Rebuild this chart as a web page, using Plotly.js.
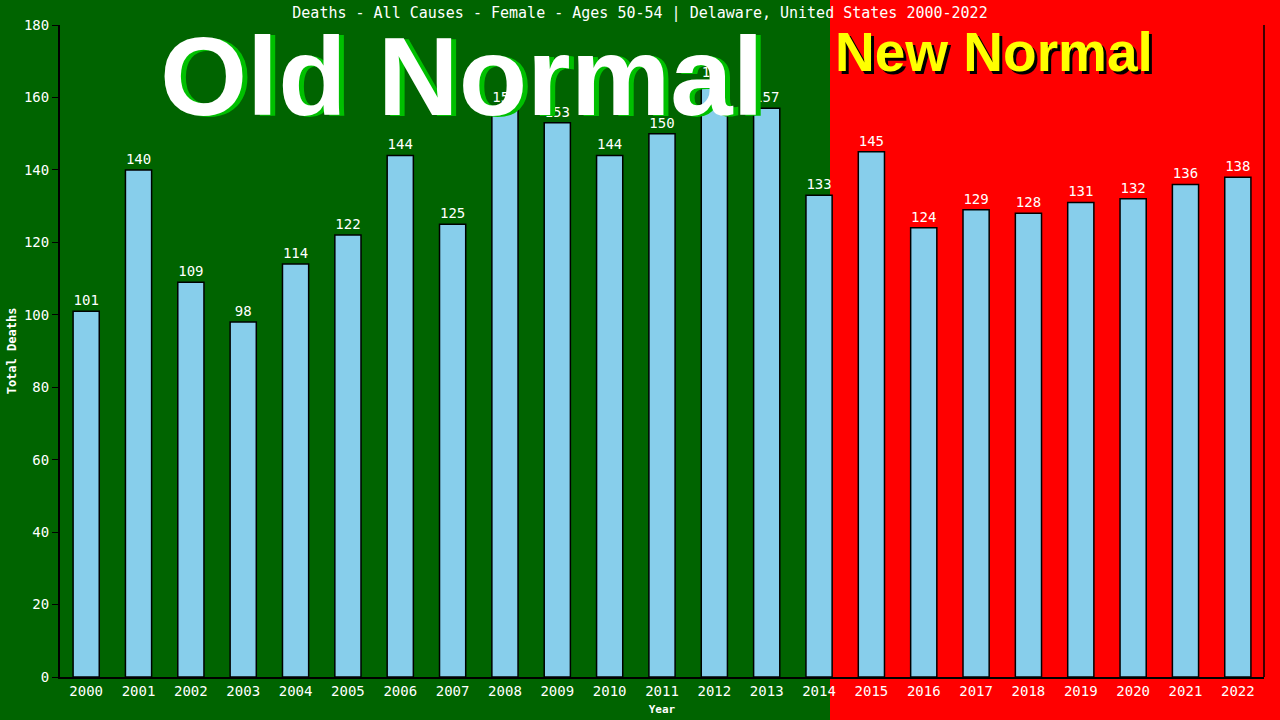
<!DOCTYPE html>
<html>
<head>
<meta charset="utf-8">
<script src="https://cdn.plot.ly/plotly-3.0.1.min.js"></script>
<style>
  html, body { margin: 0; padding: 0; background: #006400; }
  #chart { width: 1280px; height: 720px; }
</style>
</head>
<body>
<div id="chart"></div>
<script>
// Deaths per year, Delaware females 50-54
const years = ['2000', '2001', '2002', '2003', '2004', '2005', '2006', '2007', '2008', '2009', '2010', '2011',
               '2012', '2013', '2014', '2015', '2016', '2017', '2018', '2019', '2020', '2021', '2022'];
const deaths = [101, 140, 109, 98, 114, 122, 144, 125, 157, 153, 144, 150,
                164, 157, 133, 145, 124, 129, 128, 131, 132, 136, 138];
const yTicks = [0, 20, 40, 60, 80, 100, 120, 140, 160, 180];

const mono = 'DejaVu Sans Mono, Liberation Mono, monospace';
const sans = 'Liberation Sans, Arial, sans-serif';

const bars = {
    type: 'bar',
    x: years,
    y: deaths,
    width: 0.5,
    marker: { color: '#87CEEB', line: { color: '#000000', width: 1.5 } },
    text: deaths.map(String),
    textposition: 'outside',
    cliponaxis: false,
    textfont: { family: mono, size: 14, color: '#ffffff' },
    hoverinfo: 'x+y'
};

const layout = {
    width: 1280,
    height: 720,
    margin: { l: 60, r: 16, t: 25, b: 43 },
    paper_bgcolor: '#006400',
    plot_bgcolor: 'rgba(0,0,0,0)',
    showlegend: false,
    bargap: 0.5,
    title: {
        text: 'Deaths - All Causes - Female - Ages 50-54 | Delaware, United States 2000-2022',
        font: { family: mono, size: 15, color: '#ffffff' },
        x: 0.5, xref: 'container', xanchor: 'center',
        y: 1 - 13 / 720, yref: 'container', yanchor: 'middle'
    },
    xaxis: {
        type: 'category',
        range: [-0.5, 22.5],
        showgrid: false,
        zeroline: false,
        showline: true, linecolor: '#000000', linewidth: 2,
        ticks: '', ticklen: 0,
        tickfont: { family: mono, size: 14, color: '#ffffff' },
        title: { text: 'Year', font: { family: mono, size: 11, color: '#ffffff', weight: 'bold' }, standoff: 8 }
    },
    yaxis: {
        range: [0, 180],
        tickvals: yTicks,
        showgrid: false,
        zeroline: false,
        showline: true, linecolor: '#000000', linewidth: 2,
        ticks: 'outside', ticklen: 6, tickcolor: '#000000',
        tickfont: { family: mono, size: 14, color: '#ffffff' },
        title: { text: 'Total Deaths', font: { family: mono, size: 12, color: '#ffffff', weight: 'bold' }, standoff: 5 }
    },
    shapes: [
        // red "new normal" half of the background
        { type: 'rect', xref: 'paper', yref: 'paper', layer: 'below',
          x0: (830 - 60) / 1204, x1: (1280 - 60) / 1204, y0: -43 / 652, y1: 677 / 652,
          fillcolor: '#FF0000', line: { width: 0 } },
        // right border
        { type: 'line', xref: 'paper', yref: 'paper', layer: 'above',
          x0: 1, x1: 1, y0: 0, y1: 1, line: { color: '#000000', width: 1.5 } }
    ],
    annotations: [
        { text: '<b>Old Normal</b>', xref: 'paper', yref: 'paper', showarrow: false,
          x: (467 - 60) / 1204, y: (677 - 78) / 652, xanchor: 'center', yanchor: 'middle',
          font: { family: sans, size: 112, color: '#00C000' } },
        { text: '<b>Old Normal</b>', xref: 'paper', yref: 'paper', showarrow: false,
          x: (462 - 60) / 1204, y: (677 - 76) / 652, xanchor: 'center', yanchor: 'middle',
          font: { family: sans, size: 112, color: '#ffffff' } },
        { text: '<b>New Normal</b>', xref: 'paper', yref: 'paper', showarrow: false,
          x: (997 - 60) / 1204, y: (677 - 55) / 652, xanchor: 'center', yanchor: 'middle',
          font: { family: sans, size: 55, color: '#000000' } },
        { text: '<b>New Normal</b>', xref: 'paper', yref: 'paper', showarrow: false,
          x: (994 - 60) / 1204, y: (677 - 52) / 652, xanchor: 'center', yanchor: 'middle',
          font: { family: sans, size: 55, color: '#FFFF00' } }
    ]
};

Plotly.newPlot('chart', [bars], layout, { displayModeBar: false, staticPlot: true });
</script>
</body>
</html>
